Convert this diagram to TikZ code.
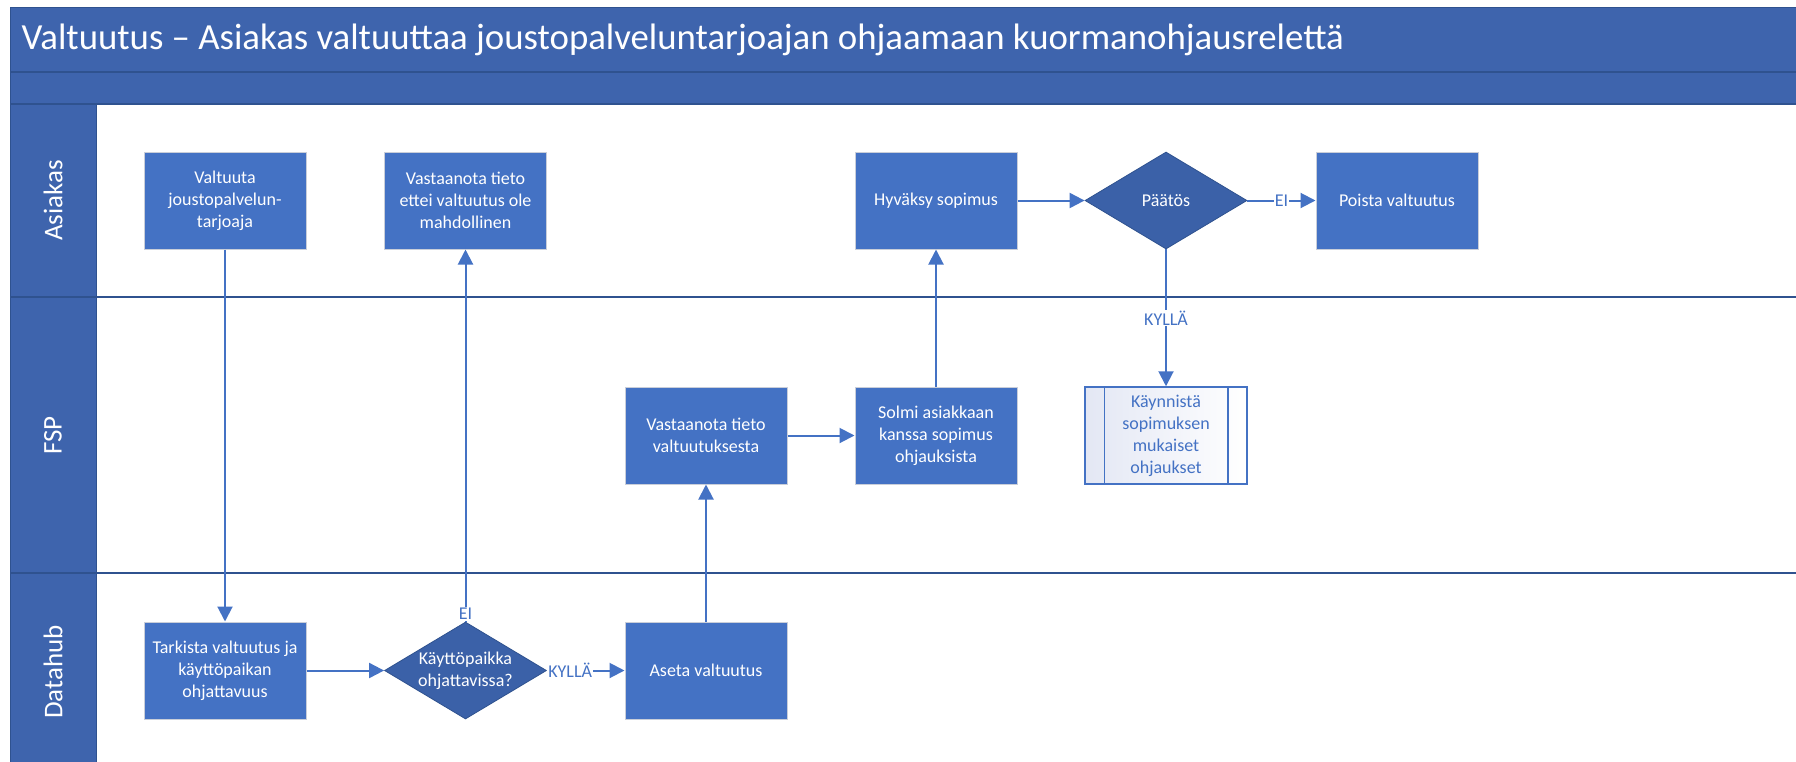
\documentclass[tikz,border=0pt]{standalone}
\usepackage{fontspec}
\setmainfont{Carlito}
\usetikzlibrary{arrows.meta, positioning, shapes.geometric}

\definecolor{kaista}{HTML}{3E64AD}
\definecolor{kaistaviiva}{HTML}{2F528F}
\definecolor{laatikko}{HTML}{4472C4}
\definecolor{reuna}{HTML}{C9CED9}
\definecolor{paatosvari}{HTML}{3B61A8}
\definecolor{vaalea}{HTML}{E3E7F4}

\begin{document}
\begin{tikzpicture}[
    x=1pt, y=-1pt,
    font=\fontsize{18}{22}\selectfont,
    vaihe/.style={draw=reuna, line width=1pt, fill=laatikko, text=white,
                  minimum width=162pt, minimum height=97pt, align=center, inner sep=2pt},
    valinta/.style={diamond, draw=kaistaviiva, line width=0.8pt, fill=paatosvari, text=white,
                  aspect=1.68, inner sep=-6pt, minimum width=162pt, minimum height=97pt, align=center},
    aliprosessi/.style={draw=laatikko, line width=1.5pt, left color=vaalea, right color=white,
                  text=laatikko, minimum width=162pt, minimum height=97pt, align=center},
    nuoli/.style={draw=laatikko, line width=2pt, -{Triangle[length=15pt, width=15pt]}},
    ehto/.style={text=laatikko, fill=white, inner sep=1pt},
    kaistanimi/.style={rotate=90, text=white, font=\fontsize{27}{32}\selectfont}
  ]
    \useasboundingbox (0,0) rectangle (1796,761);

    % kehys, otsikko ja kaistat
    \fill[kaista] (10,7) rectangle (1800,104);
    \fill[kaista] (10,104) rectangle (96,775);
    \draw[kaistaviiva, line width=1pt] (1800,7) -- (10,7) -- (10,775);
    \draw[kaistaviiva, line width=1.5pt] (10,72) -- (1800,72);
    \draw[kaistaviiva, line width=1.5pt] (10,104) -- (1800,104);
    \draw[kaistaviiva, line width=1pt] (96,104) -- (96,775);
    \draw[kaistaviiva, line width=2.5pt] (10,297) -- (1800,297);
    \draw[kaistaviiva, line width=2.5pt] (10,573) -- (1800,573);

    \node[anchor=west, text=white, font=\fontsize{36.8}{44}\selectfont] (otsikko) at (18,39.5)
      {Valtuutus – Asiakas valtuuttaa joustopalveluntarjoajan ohjaamaan kuormanohjausrelettä};
    \node[kaistanimi] (asiakas) at (53,200.5) {Asiakas};
    \node[kaistanimi] (fsp) at (53,435.5) {FSP};
    \node[kaistanimi] (datahub) at (53,672) {Datahub};

    % Asiakas
    \node[vaihe] (valtuuta) at (225,200.5) {Valtuuta\\joustopalvelun-\\tarjoaja};
    \node[vaihe] (eimahd) at (465.5,200.5) {Vastaanota tieto\\ettei valtuutus ole\\mahdollinen};
    \node[vaihe] (hyvaksy) at (936,200.5) {Hyväksy sopimus};
    \node[valinta] (paatos) at (1166,200.5) {Päätös};
    \node[vaihe] (poista) at (1397,200.5) {Poista valtuutus};

    % FSP
    \node[vaihe] (vastaanota) at (706,435.5) {Vastaanota tieto\\valtuutuksesta};
    \node[vaihe] (solmi) at (936,435.5) {Solmi asiakkaan\\kanssa sopimus\\ohjauksista};
    \node[aliprosessi] (kaynnista) at (1166,435.5) {Käynnistä\\sopimuksen\\mukaiset\\ohjaukset};
    \draw[laatikko, line width=1.5pt] ([xshift=20pt]kaynnista.north west) -- ([xshift=20pt]kaynnista.south west);
    \draw[laatikko, line width=1.5pt] ([xshift=-20pt]kaynnista.north east) -- ([xshift=-20pt]kaynnista.south east);

    % Datahub
    \node[vaihe] (tarkista) at (225,670.5) {Tarkista valtuutus ja\\käyttöpaikan\\ohjattavuus};
    \node[valinta] (kohde) at (465.5,670.5) {Käyttöpaikka\\ohjattavissa?};
    \node[vaihe] (aseta) at (706,670.5) {Aseta valtuutus};

    \draw[nuoli] (valtuuta) -- (tarkista);
    \draw[nuoli] (tarkista) -- (kohde);
    \draw[nuoli] (kohde) -- node[ehto, pos=0.3]{KYLLÄ} (aseta);
    \draw[nuoli] (kohde.north) -- node[ehto, pos=0, anchor=south]{EI} (eimahd.south);
    \draw[nuoli] (aseta) -- (vastaanota);
    \draw[nuoli] (vastaanota) -- (solmi);
    \draw[nuoli] (solmi) -- (hyvaksy);
    \draw[nuoli] (hyvaksy) -- (paatos);
    \draw[nuoli] (paatos) -- node[ehto]{EI} (poista);
    \draw[nuoli] (paatos) -- node[ehto]{KYLLÄ} (kaynnista);
  \end{tikzpicture}
\end{document}
